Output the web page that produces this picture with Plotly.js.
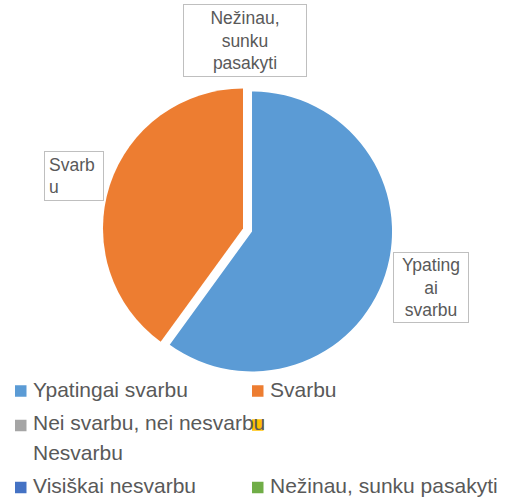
<!DOCTYPE html>
<html>
<head>
<meta charset="utf-8">
<script src="https://cdn.plot.ly/plotly-3.0.1.min.js"></script>
<style>
  html, body { margin: 0; padding: 0; background: #ffffff; }
  #chart { width: 513px; height: 503px; }
</style>
</head>
<body>
<div id="chart"></div>
<script>
// ---- data ----
const categories = ['Ypatingai svarbu', 'Svarbu', 'Nei svarbu, nei nesvarbu', 'Nesvarbu', 'Visiškai nesvarbu', 'Nežinau, sunku pasakyti'];
const values = [60, 40, 0, 0, 0, 0];
const sliceLabels = ['Ypating<br>ai<br>svarbu', 'Svarb<br>u', null, null, null, 'Nežinau,<br>sunku<br>pasakyti'];

// ---- style ----
const colors = ['#5B9BD5', '#ED7D31', '#A5A5A5', '#FFC000', '#4472C4', '#70AD47'];
const W = 513, H = 503;
const textColor = '#595959';
const FONT = 'Liberation Sans, Arial, sans-serif';
const px = x => x / W;
const py = y => 1 - y / H;

// pie placement (pixels)
const cx = 247.5, cy = 230, r = 140, pull = 0.034;
const half = r * (1 + pull);

// label boxes (pixel centers / sizes) for slices that have a label
const labelBoxes = [
  {i: 0, x: 431, y: 287.5, w: 76, h: 71, align: 'center', pad: 0},
  {i: 1, x: 74, y: 176, w: 60, h: 50, align: 'left', pad: 4},
  {i: 5, x: 245, y: 40.5, w: 124, h: 73, align: 'center', pad: 0}
];

// legend layout (pixels)
const legendPos = [
  {mx: 15, my: 391, tx: 33, ty: 389.7},
  {mx: 252, my: 391, tx: 270, ty: 389.7},
  {mx: 15, my: 425.5, tx: 33, ty: 422.7},
  {mx: 252, my: 425, tx: 33, ty: 452.7},
  {mx: 15, my: 487.5, tx: 33, ty: 485.7},
  {mx: 252, my: 487.5, tx: 270, ty: 485.7}
];
const msz = 11.5;

const trace = {
  type: 'pie',
  labels: categories,
  values: values,
  sort: false,
  direction: 'clockwise',
  rotation: 0,
  pull: values.map((v, i) => i < 2 ? pull : 0),
  marker: {colors: colors, line: {width: 0}},
  textinfo: 'none',
  hoverinfo: 'label+value',
  showlegend: false,
  domain: {x: [px(cx - half), px(cx + half)], y: [py(cy + half), py(cy - half)]}
};

const annotations = [];
labelBoxes.forEach(b => {
  annotations.push({
    xref: 'paper', yref: 'paper',
    x: px(b.x), y: py(b.y), xanchor: 'center', yanchor: 'middle',
    text: sliceLabels[b.i], showarrow: false, align: b.align,
    width: b.w - 2 - 2 * b.pad, height: b.h - 2 - 2 * b.pad,
    borderpad: b.pad, borderwidth: 1, bordercolor: '#BFBFBF', bgcolor: '#ffffff',
    font: {family: FONT, size: 17.5, color: textColor}
  });
});

const shapes = [];
categories.forEach((c, i) => {
  const p = legendPos[i];
  shapes.push({
    type: 'rect', xref: 'paper', yref: 'paper',
    x0: px(p.mx), x1: px(p.mx + msz), y0: py(p.my + msz / 2), y1: py(p.my - msz / 2),
    fillcolor: colors[i], line: {width: 0}
  });
  annotations.push({
    xref: 'paper', yref: 'paper', x: px(p.tx), y: py(p.ty),
    xanchor: 'left', yanchor: 'middle', text: c, showarrow: false,
    borderpad: 0, borderwidth: 0,
    font: {family: FONT, size: 21, color: textColor}
  });
});

const layout = {
  width: W, height: H,
  margin: {l: 0, r: 0, t: 0, b: 0},
  paper_bgcolor: '#ffffff',
  showlegend: false,
  annotations: annotations,
  shapes: shapes
};

Plotly.newPlot('chart', [trace], layout, {displayModeBar: false, staticPlot: true});
</script>
</body>
</html>
